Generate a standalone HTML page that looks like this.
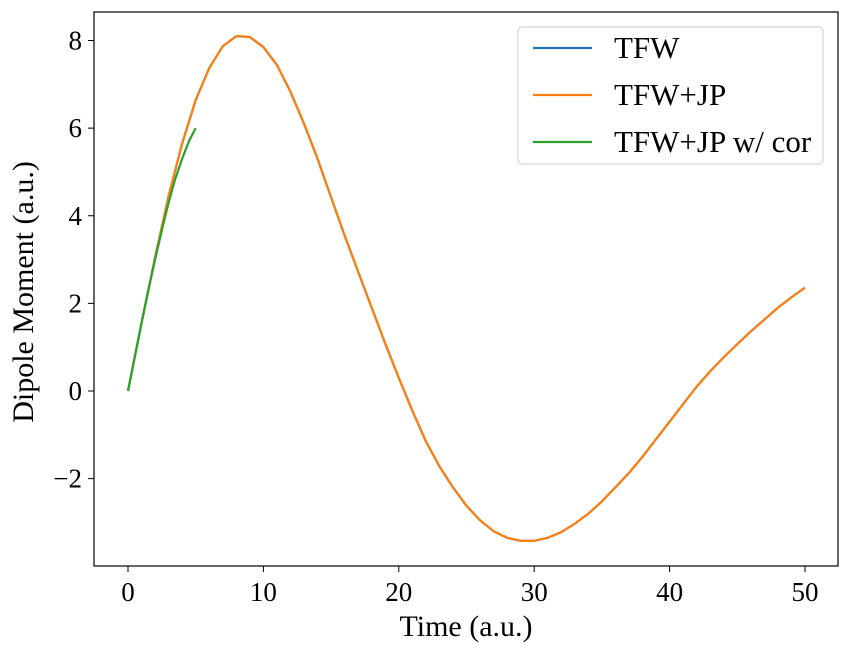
<!DOCTYPE html>
<html><head><meta charset="utf-8"><style>
body{margin:0;background:#fff}
svg text{font-family:"Liberation Serif",serif;fill:#000}
</style></head><body>
<svg id="c" width="849" height="652"></svg>
<script>
const tfwTimes=[0,1,2,3,4,5,6,7,8,9,10,11,12,13,14,15,16,17,18,19,20,21,22,23,24,25,26,27,28,29,30,31,32,33,34,35,36,37,38,39,40,41,42,43,44,45,46,47,48,49,50];
const tfwValues=[0,1.55,3.05,4.45,5.65,6.64,7.37,7.87,8.10,8.08,7.85,7.44,6.83,6.1,5.3,4.42,3.55,2.72,1.9,1.08,0.3,-0.45,-1.15,-1.72,-2.2,-2.62,-2.95,-3.2,-3.35,-3.42,-3.42,-3.35,-3.22,-3.03,-2.8,-2.52,-2.2,-1.87,-1.5,-1.1,-0.7,-0.3,0.1,0.45,0.77,1.07,1.36,1.63,1.9,2.14,2.36];
const corTimes=[0,0.5,1,1.5,2,2.5,3,3.5,4,4.5,5];
const corValues=[0,0.78,1.55,2.3,3.0,3.67,4.3,4.85,5.3,5.7,6.0];
const xTicks=[0,10,20,30,40,50];
const yTicks=[-2,0,2,4,6,8];
const legendLabels=["TFW","TFW+JP","TFW+JP w/ cor"];
const colors=["#1f77b4","#ff7f0e","#2ca02c"];
const NS="http://www.w3.org/2000/svg";
const svg=document.getElementById('c');
const L=94,R=838,T=12,B=566;
const X=v=>128+v*(805-128)/50;
const Y=v=>391-v*(391-40.5)/8;
function mk(tag,a,p){const e=document.createElementNS(NS,tag);for(const k in a)e.setAttribute(k,a[k]);(p||svg).appendChild(e);return e;}
function line(xs,ys,c,name){const d=xs.map((x,i)=>(i?'L':'M')+X(x).toFixed(2)+','+Y(ys[i]).toFixed(2)).join('');
const p=mk('path',{d:d,fill:'none',stroke:c,'stroke-width':2.2,'stroke-linejoin':'round'});

}
line(tfwTimes,tfwValues,colors[0],'tfw-line');
line(tfwTimes,tfwValues,colors[1],'tfw-jp-line');
line(corTimes,corValues,colors[2],'tfw-jp-cor-line');
const fr=mk('rect',{x:L,y:T,width:R-L,height:B-T,fill:'none',stroke:'#000','stroke-width':1.2});


xTicks.forEach(v=>{mk('line',{x1:X(v),x2:X(v),y1:B,y2:B+6,stroke:'#000','stroke-width':1});
const t=mk('text',{x:X(v),y:B+35,'text-anchor':'middle','font-size':27});t.textContent=v;

});
yTicks.forEach(v=>{mk('line',{x1:L-6,x2:L,y1:Y(v),y2:Y(v),stroke:'#000','stroke-width':1});
const t=mk('text',{x:L-12,y:Y(v)+9,'text-anchor':'end','font-size':27});t.textContent=v<0?'\u2212'+(-v):v;

});
const xl=mk('text',{x:466,y:636,'text-anchor':'middle','font-size':30});xl.textContent='Time (a.u.)';


const yl=mk('text',{x:0,y:0,'text-anchor':'middle','font-size':30,transform:'translate(33,292) rotate(-90)'});yl.textContent='Dipole Moment (a.u.)';


const lg=mk('g',{});


mk('rect',{x:518,y:27,width:305,height:137,rx:4,fill:'#fff',stroke:'#ccc','stroke-width':1},lg);
legendLabels.forEach((s,i)=>{const y=48+i*47;
mk('line',{x1:533,x2:592,y1:y,y2:y,stroke:colors[i],'stroke-width':2.2},lg);
const t=mk('text',{x:614,y:y+10,'font-size':31},lg);t.textContent=s;

});
</script>
</body></html>
